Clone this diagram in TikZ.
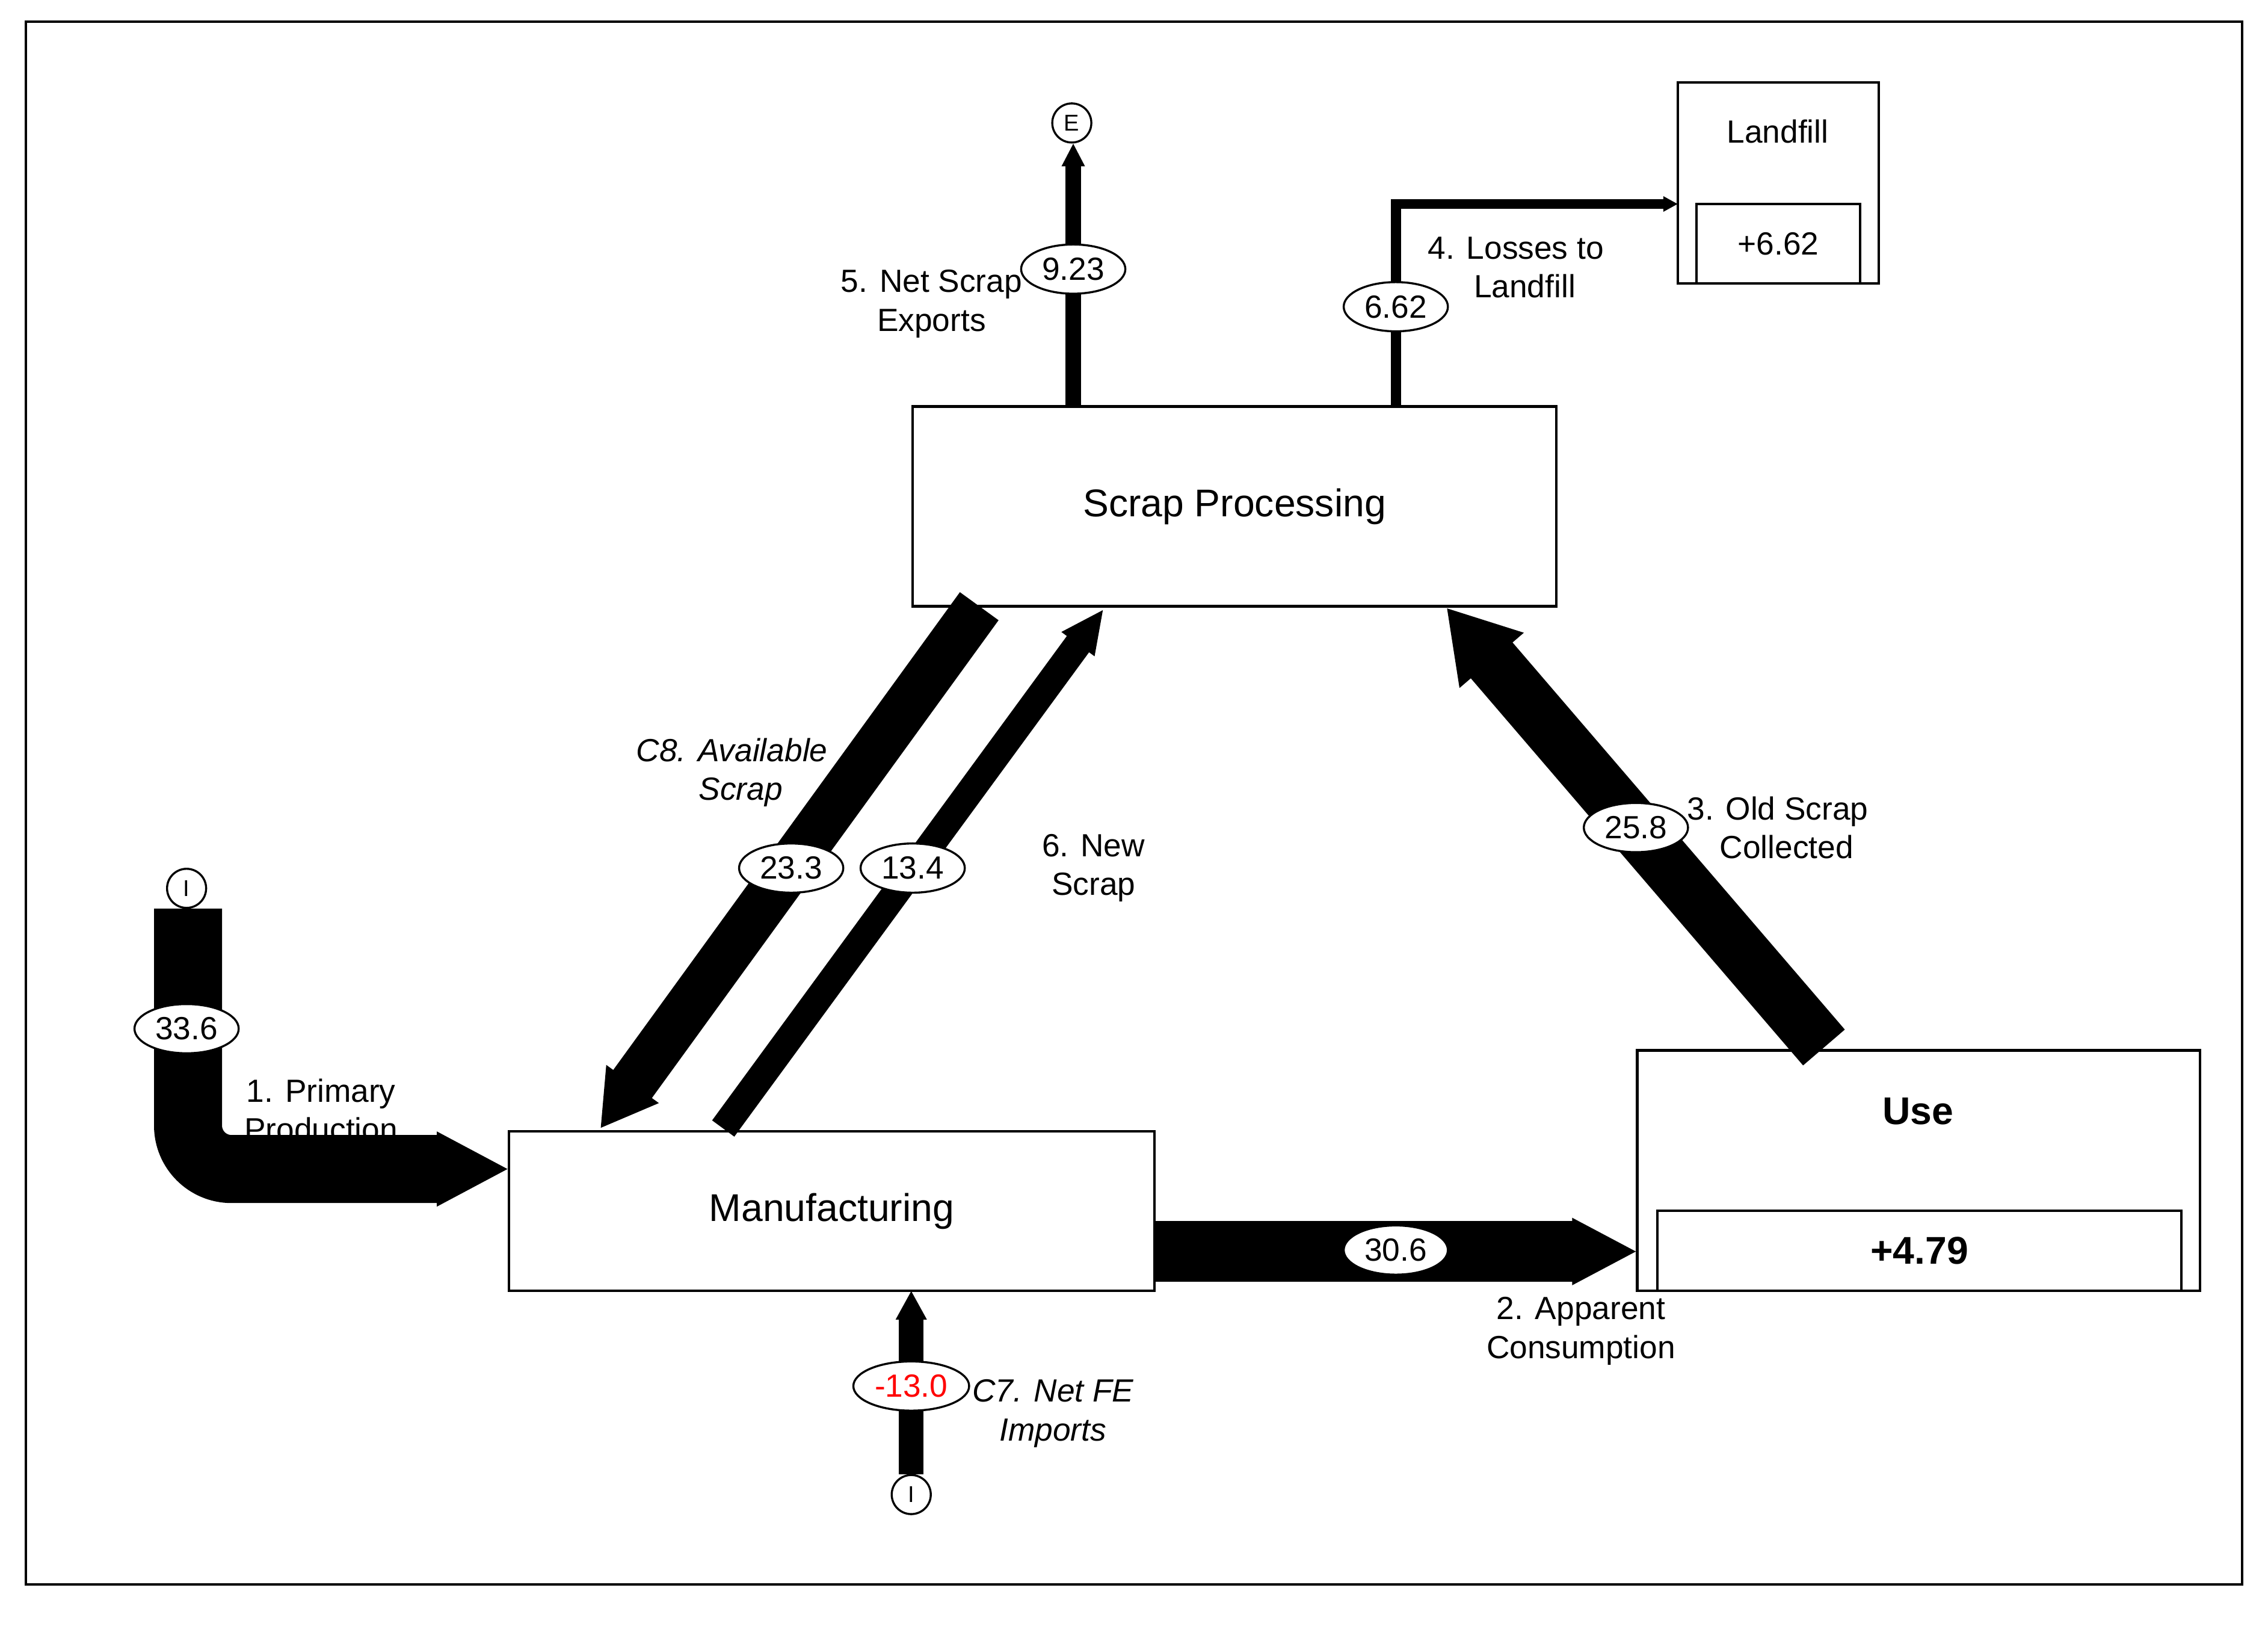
\documentclass[tikz,border=0pt]{standalone}
\usepackage{fontspec}
\setmainfont{Liberation Sans}
\usetikzlibrary{arrows.meta,shapes.geometric}
\begin{document}
\begin{tikzpicture}[x=0.01cm,y=-0.01cm,
  box/.style={draw,line width=0.5pt,fill=white,inner sep=0},
  val/.style={ellipse,draw,fill=white,line width=0.4pt,inner sep=0.5pt,minimum width=0.72cm,minimum height=0.34cm,font=\fontsize{6.3}{7}\selectfont},
  lbl/.style={font=\fontsize{6.3}{7.6}\selectfont,align=center},
  circ/.style={circle,draw,fill=white,line width=0.4pt,inner sep=0,minimum size=0.27cm,font=\fontsize{4.5}{5}\selectfont},
  flow/.style={line width=#1,draw=black}]
\useasboundingbox (0,0) rectangle (1568,1134);
\draw[line width=0.5pt] (18,15) rectangle (1550,1095);
% boxes
\node[box,minimum width=4.45cm,minimum height=1.38cm,font=\fontsize{7.6}{9}\selectfont] (sp) at (853.5,350) {Scrap Processing};
\node[box,minimum width=4.46cm,minimum height=1.10cm,font=\fontsize{7.6}{9}\selectfont] (mf) at (575,837) {Manufacturing};
\node[box,minimum width=3.89cm,minimum height=1.66cm] (use) at (1326.5,809) {};
\node[font=\fontsize{7.6}{9}\selectfont\bfseries] (uset) at (1326,768) {Use};
\node[box,minimum width=3.62cm,minimum height=0.55cm,font=\fontsize{7.6}{9}\selectfont\bfseries] (usev) at (1327,864.5) {+4.79};
\node[box,minimum width=1.39cm,minimum height=1.39cm] (lf) at (1229.5,126.5) {};
\node[font=\fontsize{6.3}{7}\selectfont] (lft) at (1229,91) {Landfill};
\node[box,minimum width=1.13cm,minimum height=0.55cm,font=\fontsize{6.3}{7}\selectfont] (lfv) at (1229.5,168.5) {+6.62};
% circles
\node[circ] (i1) at (129,614) {I};
\node[circ] (e1) at (741,85) {E};
\node[circ] (i2) at (630,1033) {I};
% texts
\node[lbl] (t1) at (222,767) {1. Primary\\Production};
\node[lbl] (t2) at (1093,920) {2. Apparent\\Consumption};
\node[lbl] (t3) at (1229,572) {3. Old Scrap\\\ \ Collected};
\node[lbl] (t4) at (1048,185) {4. Losses to\\\ \ Landfill};
\node[lbl] (t5) at (644,210) {5. Net Scrap\\Exports};
\node[lbl] (t6) at (756,600) {6. New\\Scrap};
\node[lbl,font=\fontsize{6.3}{7.6}\selectfont\itshape] (t7) at (728,977) {C7. Net FE\\Imports};
\node[lbl,font=\fontsize{6.3}{7.6}\selectfont\itshape] (t8) at (506,534) {C8. Available\\\ \ Scrap};
% coordinates
\coordinate (p1a) at (130,628); \coordinate (p1b) at (130,808); \coordinate (p1c) at (352,808);
\coordinate (p2a) at (798,865); \coordinate (p2b) at (1132,865);
\coordinate (p3a) at (1261,724); \coordinate (p3b) at (1000,420);
\coordinate (p8a) at (677,419); \coordinate (p8b) at (415,780);
\coordinate (p6a) at (500,780); \coordinate (p6b) at (763,421);
\coordinate (p5a) at (742,281); \coordinate (p5b) at (742,99);
\coordinate (p4a) at (965,281); \coordinate (p4b) at (965,141); \coordinate (p4c) at (1160,141);
\coordinate (p7a) at (630,1019); \coordinate (p7b) at (630,892);
% flows
\draw[flow=0.47cm,rounded corners=0.3cm,-{Triangle[width=0.48cm,length=0.5cm]}] (p1a) -- (p1b) -- (p1c);
\draw[flow=0.42cm,-{Triangle[width=0.43cm,length=0.45cm]}] (p2a) -- (p2b);
\draw[flow=0.38cm,-{Triangle[width=0.55cm,length=0.48cm]}] (p3a) -- (p3b);
\draw[flow=0.33cm,-{Triangle[width=0.42cm,length=0.38cm]}] (p8a) -- (p8b);
\draw[flow=0.19cm,-{Triangle[width=0.26cm,length=0.3cm]}] (p6a) -- (p6b);
\draw[flow=0.11cm,-{Triangle[width=0.15cm,length=0.16cm]}] (p5a) -- (p5b);
\draw[flow=0.07cm,-{Triangle[width=0.1cm,length=0.1cm]}] (p4a) -- (p4b) -- (p4c);
\draw[flow=0.17cm,-{Triangle[width=0.2cm,length=0.2cm]}] (p7a) -- (p7b);
% values
\node[val] (v1) at (129,711) {33.6};
\node[val] (v2) at (965,864) {30.6};
\node[val] (v3) at (1131,572) {25.8};
\node[val] (v8) at (547,600) {23.3};
\node[val] (v6) at (631,600) {13.4};
\node[val] (v5) at (742,186) {9.23};
\node[val] (v4) at (965,212) {6.62};
\node[val,text=red,minimum width=0.8cm] (v7) at (630,958) {-13.0};
\end{tikzpicture}
\end{document}
